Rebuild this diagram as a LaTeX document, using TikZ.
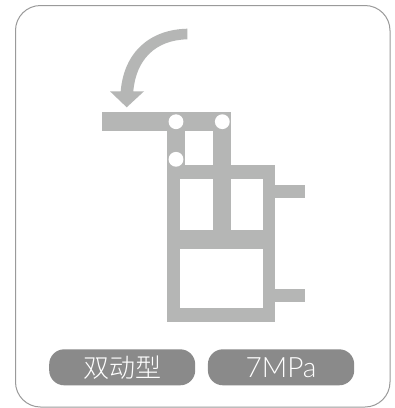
\documentclass[tikz,border=0pt]{standalone}
\usepackage{fontspec}
\newfontfamily\cjk{Noto Sans CJK SC Light}
\newfontfamily\latinlight{Lato Light}
\definecolor{partgrey}{HTML}{B5B6B5}
\definecolor{pillgrey}{HTML}{8A8A8A}
\definecolor{framegrey}{HTML}{9A9A9A}
\tikzset{
  part/.style={fill=partgrey,draw=none},
  hole/.style={fill=white,draw=none},
  pill/.style={fill=pillgrey,draw=none,rounded corners=15pt,minimum height=36pt,text=white,inner sep=0pt,anchor=west},
}
\begin{document}
\begin{tikzpicture}[x=1pt,y=-1pt]
\useasboundingbox (0,0) rectangle (395,408);
\fill[white] (0,0) rectangle (395,408);
\draw[framegrey,line width=1pt,rounded corners=25pt] (15.5,5.5) rectangle (390,407);
% body
\fill[part] (102.3,112.3) rectangle (231.3,130.7);
\fill[part] (167,112.3) rectangle (185.3,165.3);
\fill[part] (213,112.3) rectangle (231.3,165.3);
\fill[part] (167,165.3) rectangle (275.3,321.7);
\fill[part] (275,185) rectangle (305.3,197.7);
\fill[part] (275,289.3) rectangle (305.3,302);
\fill[hole] (179.7,179) rectangle (213,230);
\fill[hole] (231.3,179) rectangle (262.5,230);
\fill[hole] (179.7,249) rectangle (262.5,307.7);
\fill[hole] (185.3,130.7) rectangle (213,165.3);
\fill[hole] (176,121.7) circle (7.4);
\fill[hole] (222.3,121.7) circle (7.4);
\fill[hole] (176,159.3) circle (7.4);
% arrow
\fill[part] (187.3,28.7) -- (187.3,39.3)
  .. controls (155,40) and (136,60) .. (133.3,91.3)
  -- (144,91.3) -- (126.7,107.3) -- (110,91.3) -- (120.7,91.3)
  .. controls (124,52) and (150,29.5) .. (187.3,28.7) -- cycle;
% labels
\node[pill,minimum width=146pt] (type) at (49,367.3) {\cjk\fontsize{26}{26}\selectfont 双动型};
\node[pill,minimum width=146.3pt] (press) at (207.7,367.3) {\latinlight\fontsize{28}{28}\selectfont 7MPa};
\end{tikzpicture}
\end{document}
